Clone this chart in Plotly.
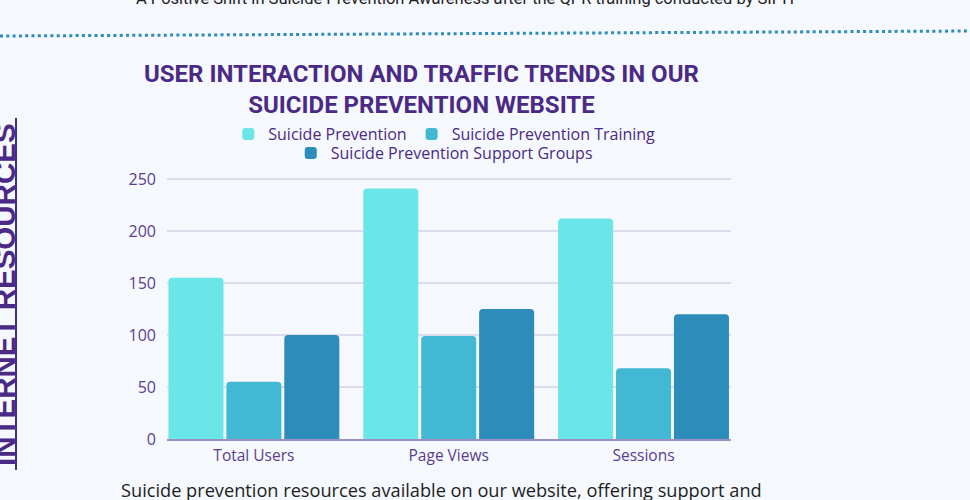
import plotly.graph_objects as go

categories = ["Total Users", "Page Views", "Sessions"]
series_names = ["Suicide Prevention", "Suicide Prevention Training", "Suicide Prevention Support Groups"]
suicide_prevention = [155, 241, 212]
sp_training = [55, 99, 68]
sp_support_groups = [100, 125, 120]
y_ticks = [0, 50, 100, 150, 200, 250]

colors = ["#6be6e8", "#42b8d4", "#2e8cba"]
purple = "#4a2a85"
tick_purple = "#5a3e8e"
bg = "#f5f8fd"

fig = go.Figure()
for name, vals, col, lg in zip(series_names, [suicide_prevention, sp_training, sp_support_groups], colors,
                              ["legend", "legend", "legend2"]):
    fig.add_trace(go.Bar(x=categories, y=vals, name=name, marker=dict(color=col, line=dict(width=0)),
                         legend=lg, hoverinfo="x+y+name"))

fig.update_layout(
    width=970, height=500,
    margin=dict(l=167, r=239, t=178, b=61, autoexpand=False),
    paper_bgcolor=bg, plot_bgcolor=bg,
    barmode="group", bargap=0.108, bargroupgap=0.05, barcornerradius=4,
    font=dict(family="Open Sans", color=tick_purple, size=15),
    legend=dict(orientation="h", xref="container", yref="container", x=0.458, y=0.766,
                xanchor="center", yanchor="top", font=dict(size=16, color=purple),
                bgcolor="rgba(0,0,0,0)", itemclick=False),
    legend2=dict(orientation="h", xref="container", yref="container", x=0.458, y=0.728,
                 xanchor="center", yanchor="top", font=dict(size=16, color=purple),
                 bgcolor="rgba(0,0,0,0)", itemclick=False),
    xaxis=dict(range=[-0.446, 2.449], showgrid=False, showline=True, linecolor="#9d8fbf", linewidth=1.5,
               tickfont=dict(size=15.5, color=tick_purple), ticklabelstandoff=2, fixedrange=True),
    yaxis=dict(range=[0, 251], tickvals=y_ticks, showgrid=True, gridcolor="#dcdcec", gridwidth=1.5,
               zeroline=False, tickfont=dict(size=16, color=tick_purple), ticklabelstandoff=10, fixedrange=True),
)

def px_x(px):
    return (px - 167) / 564

def px_y(py):
    return (439 - py) / 261

fig.add_annotation(x=px_x(421), y=px_y(89), xref="paper", yref="paper", showarrow=False,
                   text="<b>USER INTERACTION AND TRAFFIC TRENDS IN OUR<br>SUICIDE PREVENTION WEBSITE</b>",
                   font=dict(family="Roboto", size=24, color=purple), align="center",
                   xanchor="center", yanchor="middle")
fig.add_annotation(x=px_x(465), y=px_y(-2), xref="paper", yref="paper", showarrow=False,
                   text="A Positive Shift in Suicide Prevention Awareness after the QPR training conducted by SIPH",
                   font=dict(family="Roboto", size=16.5, color="#222222"), xanchor="center", yanchor="middle")
fig.add_annotation(x=px_x(119), y=px_y(490), xref="paper", yref="paper", showarrow=False,
                   text="Suicide prevention resources available on our website, offering support and",
                   font=dict(family="Open Sans", size=18.2, color="#1e1e1e"), xanchor="left", yanchor="middle")
fig.add_annotation(x=px_x(4), y=px_y(295), xref="paper", yref="paper", showarrow=False,
                   text="<b>INTERNET RESOURCES</b>", textangle=-90,
                   font=dict(family="Liberation Sans", size=29.5, color=purple), xanchor="center", yanchor="middle")
fig.add_shape(type="line", xref="paper", yref="paper", x0=px_x(16), x1=px_x(16), y0=px_y(470), y1=px_y(118),
              line=dict(color=purple, width=2))
fig.add_shape(type="line", xref="paper", yref="paper", x0=px_x(0), x1=px_x(970), y0=px_y(36), y1=px_y(31),
              line=dict(color="#2e8cba", width=3, dash="3px,3.3px"))

fig.write_html("out.html")
